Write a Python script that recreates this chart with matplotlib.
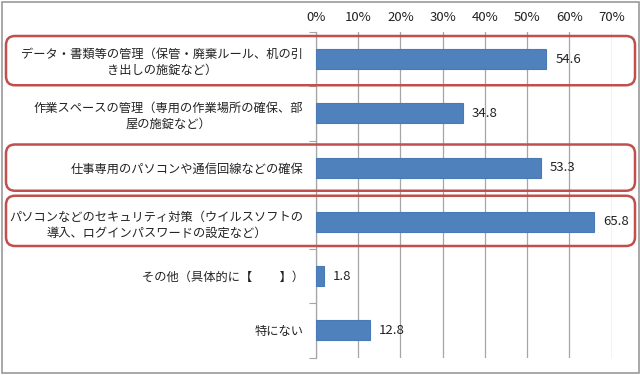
import matplotlib
matplotlib.use("Agg")
import matplotlib.pyplot as plt
from matplotlib.patches import FancyBboxPatch, Rectangle

plt.rcParams['font.family'] = ['Noto Sans CJK JP', 'DejaVu Sans']

categories = [
    "データ・書類等の管理（保管・廃棄ルール、机の引\nき出しの施錠など）",
    "作業スペースの管理（専用の作業場所の確保、部\n屋の施錠など）",
    "仕事専用のパソコンや通信回線などの確保",
    "パソコンなどのセキュリティ対策（ウイルスソフトの\n導入、ログインパスワードの設定など）",
    "その他（具体的に【　　 】）",
    "特にない",
]
values = [54.6, 34.8, 53.3, 65.8, 1.8, 12.8]
highlighted = [0, 2, 3]
xticks = [0, 10, 20, 30, 40, 50, 60, 70]
xticklabels = ["0%", "10%", "20%", "30%", "40%", "50%", "60%", "70%"]

W, H = 640, 375
fig = plt.figure(figsize=(W / 100, H / 100), dpi=100)
ax = fig.add_axes([316 / W, 1 - 357.5 / H, (611.5 - 316) / W, (357.5 - 32) / H])

n = len(categories)
ypos = list(range(n))
ax.barh(ypos, values, height=0.37, color="#4f81bd", edgecolor="#4a7ab5", linewidth=0.8, zorder=3)
ax.set_ylim(n - 0.5, -0.5)
ax.set_xlim(0, 70)

for y, v in zip(ypos, values):
    ax.annotate(f"{v:.1f}", (v, y), xytext=(6.5, 0), textcoords="offset points",
                va="center", ha="left", fontsize=9.5, color="#222222", zorder=4)

ax.set_xticks(xticks)
ax.set_xticklabels(xticklabels)
ax.xaxis.tick_top()
ax.tick_params(axis="x", length=0, labelsize=9.5, labelcolor="#222222", pad=6)
ax.grid(axis="x", color="#a6a6a6", linewidth=0.9, zorder=0)

ax.set_yticks([i - 0.5 for i in range(n + 1)], minor=False)
ax.set_yticklabels([])
ax.set_yticks(ypos, minor=True)
ax.set_yticklabels(categories, minor=True, fontsize=8.8, color="#222222",
                   multialignment="center", linespacing=1.3)
ax.tick_params(axis="y", which="minor", length=0, pad=9)
ax.tick_params(axis="y", which="major", length=5, color="#a6a6a6", direction="out")

for s in ["top", "right", "bottom"]:
    ax.spines[s].set_visible(False)
ax.spines["left"].set_color("#a6a6a6")
ax.spines["left"].set_linewidth(0.9)

# highlight boxes
fig.canvas.draw()
for i in highlighted:
    (_, y_top) = ax.transData.transform((0, i - 0.5))
    (_, y_bot) = ax.transData.transform((0, i + 0.5))
    top = y_top - 4
    bot = y_bot + 1
    if i == 2:
        top = y_top - 4
        bot = y_bot + 4
    if i == 3:
        top = y_top - 1
        bot = y_bot + 3
    x0, x1 = 6, 635
    p = FancyBboxPatch((x0, bot), x1 - x0, top - bot,
                       boxstyle="round,pad=0,rounding_size=9",
                       transform=None, fill=False, edgecolor="#c0504d",
                       linewidth=1.8, zorder=10)
    fig.patches.append(p)

border = Rectangle((2, 2), W - 3, H - 4, transform=None, fill=False,
                   edgecolor="#9a9a9a", linewidth=1.2)
fig.patches.append(border)

fig.savefig("out.png", dpi=100)
